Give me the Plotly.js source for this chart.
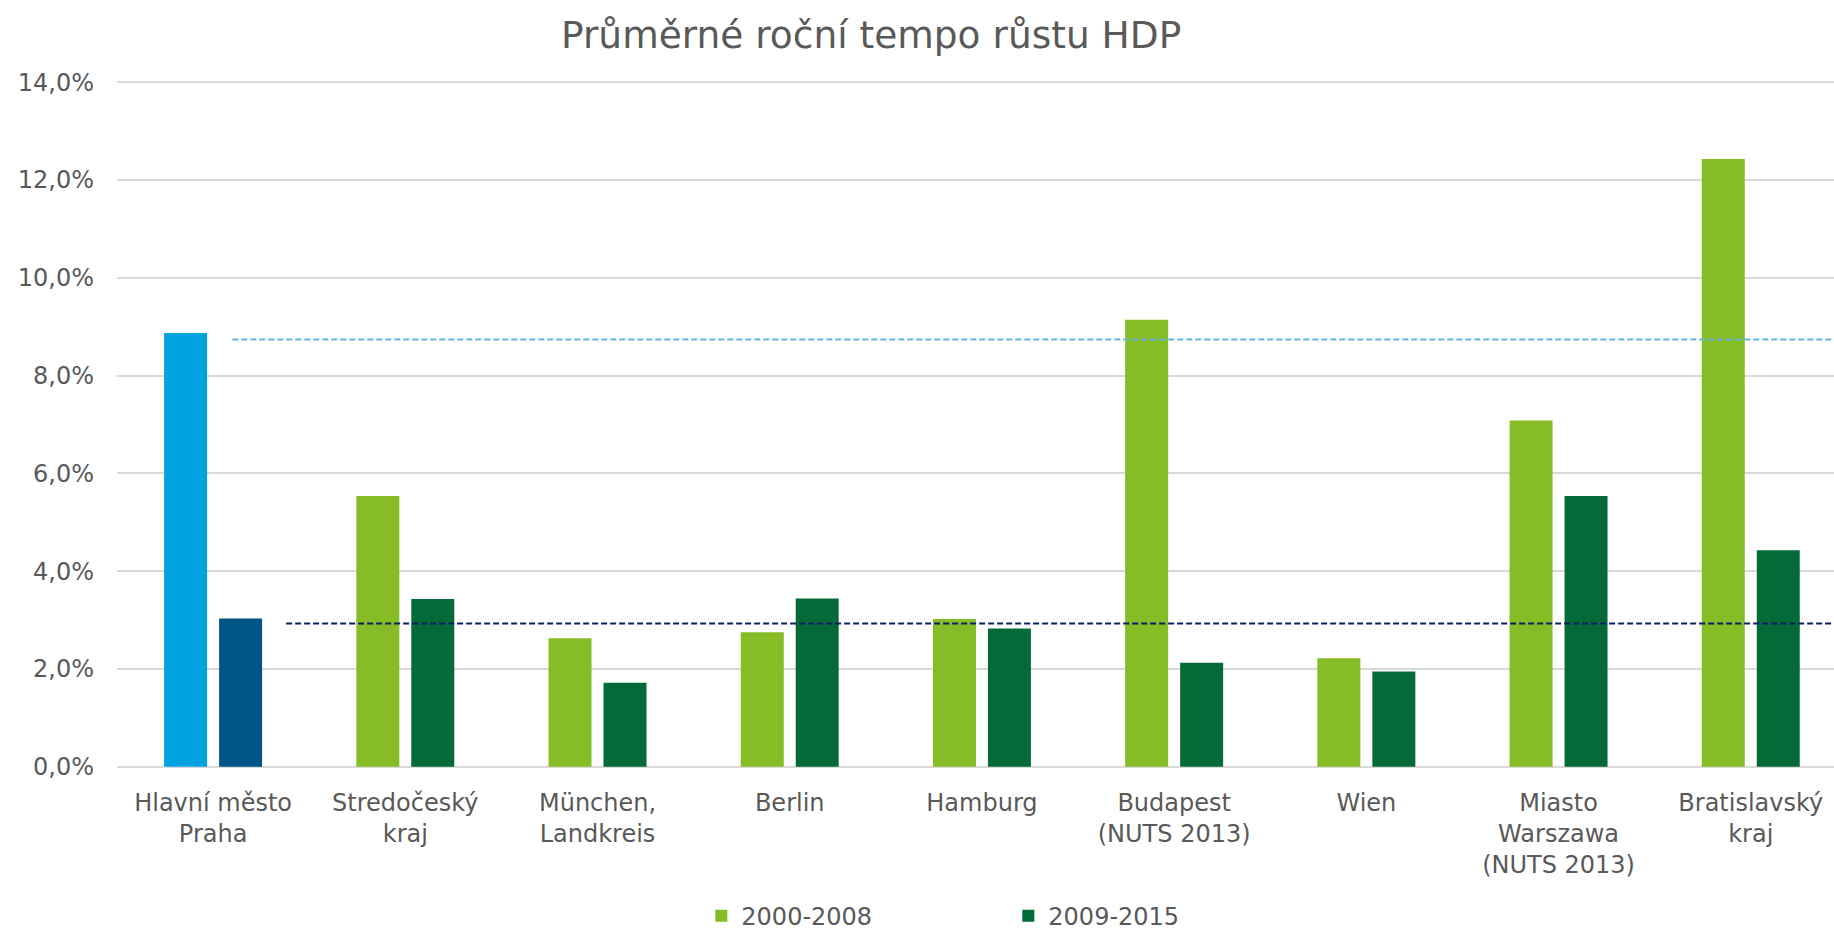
<!DOCTYPE html>
<html>
<head>
<meta charset="utf-8">
<script src="https://cdn.plot.ly/plotly-3.0.1.min.js"></script>
<style>html,body{margin:0;padding:0;background:#fff;}#chart{width:1834px;height:930px;}</style>
</head>
<body>
<div id="chart"></div>
<script>
const categories = ["Hlavní město<br>Praha", "Stredočeský<br>kraj", "München,<br>Landkreis", "Berlin", "Hamburg", "Budapest<br>(NUTS 2013)", "Wien", "Miasto<br>Warszawa<br>(NUTS 2013)", "Bratislavský<br>kraj"];
const seriesNames = ["2000-2008", "2009-2015"];
const growth2000_2008 = [8.87, 5.54, 2.63, 2.75, 3.02, 9.14, 2.22, 7.08, 12.43];
const growth2009_2015 = [3.03, 3.43, 1.72, 3.44, 2.83, 2.13, 1.95, 5.54, 4.43];
const refLineValues = [8.74, 2.93];
const refLineStart = [0.10, 0.38];
const yTicks = [0, 2, 4, 6, 8, 10, 12, 14];
const yTickLabels = ["0,0%", "2,0%", "4,0%", "6,0%", "8,0%", "10,0%", "12,0%", "14,0%"];

const COL_LG = "#86BC25", COL_DG = "#046A38", COL_LB = "#00A3E0", COL_DB = "#005587";
const TXT = "#595959";
const FONT = "DejaVu Sans, Verdana, sans-serif";

const mainIdx = categories.map((c, i) => i).filter(i => i > 0);
const traces = [
  {type: "bar", name: seriesNames[0], x: mainIdx.map(i => categories[i]), y: mainIdx.map(i => growth2000_2008[i]),
   marker: {color: COL_LG}, offsetgroup: "a", hoverinfo: "skip"},
  {type: "bar", name: seriesNames[1], x: mainIdx.map(i => categories[i]), y: mainIdx.map(i => growth2009_2015[i]),
   marker: {color: COL_DG}, offsetgroup: "b", hoverinfo: "skip"},
  {type: "bar", name: seriesNames[0], x: [categories[0]], y: [growth2000_2008[0]],
   marker: {color: COL_LB}, offsetgroup: "a", showlegend: false, hoverinfo: "skip"},
  {type: "bar", name: seriesNames[1], x: [categories[0]], y: [growth2009_2015[0]],
   marker: {color: COL_DB}, offsetgroup: "b", showlegend: false, hoverinfo: "skip"}
];

const shapes = [
  {type: "line", xref: "x", yref: "y", x0: refLineStart[0], x1: 9, y0: refLineValues[0], y1: refLineValues[0],
   line: {color: "#62B5E5", width: 2, dash: "6px,3px"}},
  {type: "line", xref: "x", yref: "y", x0: refLineStart[1], x1: 9, y0: refLineValues[1], y1: refLineValues[1],
   line: {color: "#0B1F65", width: 2, dash: "6px,3px"}}
];

const layout = {
  width: 1834, height: 930,
  margin: {l: 117, r: 0, t: 81, b: 161.5, pad: 0, autoexpand: false},
  paper_bgcolor: "#fff", plot_bgcolor: "#fff",
  font: {family: FONT, color: TXT, size: 24},
  title: {text: "Průměrné roční tempo růstu HDP", font: {family: FONT, size: 37.5, color: TXT},
          x: 0.475, xanchor: "center", xref: "container", y: 0.962, yanchor: "middle"},
  barmode: "group", bargap: 0.428, bargroupgap: 0.218,
  xaxis: {type: "category", categoryorder: "array", categoryarray: categories, automargin: false,
          range: [-0.5, 8.433], showgrid: false, zeroline: false, showline: false, ticks: "",
          ticklabelstandoff: 18,
          tickfont: {family: FONT, size: 24, color: TXT}, fixedrange: true},
  yaxis: {range: [-0.025, 14.025], tickmode: "array", tickvals: yTicks, ticktext: yTickLabels, automargin: false,
          showgrid: true, gridcolor: "#D9D9D9", gridwidth: 2, zeroline: false, showline: false,
          ticks: "", ticklabelstandoff: 22, tickfont: {family: FONT, size: 24, color: TXT}, fixedrange: true},
  legend: {orientation: "h", xref: "container", yref: "container", x: 0.3824, xanchor: "left", y: 0.015, yanchor: "middle",
           font: {family: FONT, size: 24, color: TXT}, entrywidth: 262, itemwidth: 30,
           traceorder: "normal", bgcolor: "rgba(0,0,0,0)"},
  shapes: shapes,
  showlegend: true
};

Plotly.newPlot("chart", traces, layout, {displayModeBar: false, staticPlot: true});
</script>
</body>
</html>
